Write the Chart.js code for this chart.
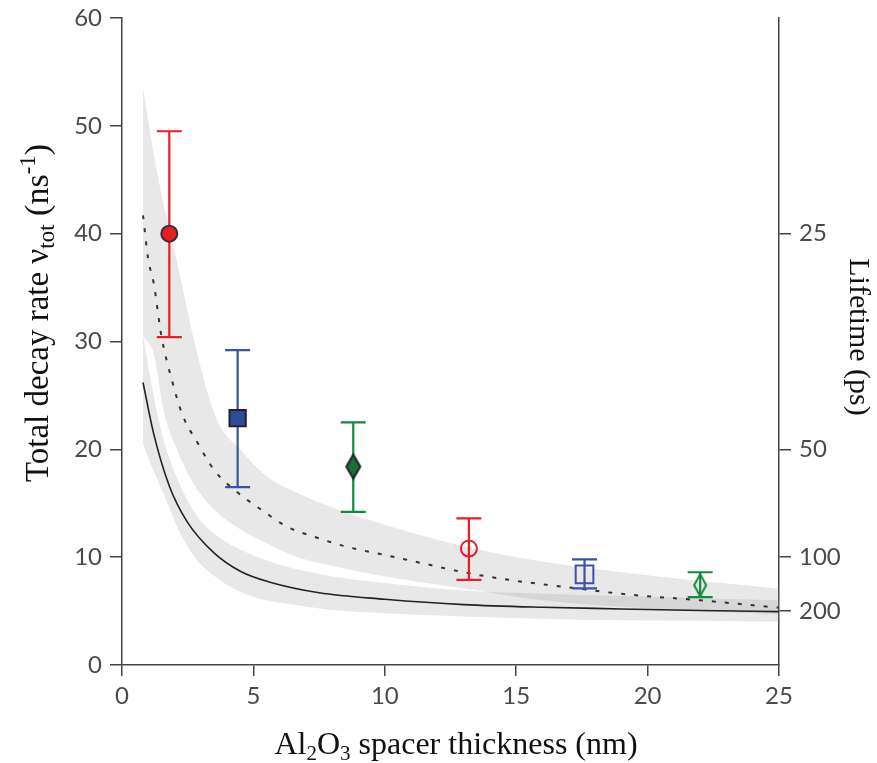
<!DOCTYPE html>
<html>
<head>
<meta charset="utf-8">
<script src="https://cdn.jsdelivr.net/npm/chart.js@4.4.0/dist/chart.umd.min.js"></script>
<style>
  html, body { margin: 0; padding: 0; background: #fff; }
  canvas { display: block; }
</style>
</head>
<body>
<canvas id="decayChart" width="877" height="763"></canvas>
<script>
// measured points (spacer thickness in nm, decay rate in 1/ns)
const thickness = [1.8, 4.4, 8.8, 13.2, 17.6, 22.0];
const rate      = [40, 22.9, 18.4, 10.8, 8.4, 7.4];
const rateHigh  = [49.5, 29.2, 22.5, 13.6, 9.8, 8.6];
const rateLow   = [30.4, 16.5, 14.2, 7.9, 7.1, 6.3];

// theory curves
const dashX = [0.8, 1.0, 1.2, 1.5, 1.9, 2.3, 2.9, 3.5, 4.3, 5.3, 6.3, 7.3, 8.5, 10, 11.5, 13, 15, 17, 19, 22, 25];
const dashY = [41.7, 37.6, 35.5, 30.5, 26.4, 23.2, 20.5, 18.1, 16.2, 14.4, 12.8, 11.9, 11.0, 10.2, 9.4, 8.6, 7.8, 7.2, 6.6, 6.0, 5.3];
const solidX = [0.8, 1.2, 1.8, 2.5, 3.5, 4.5, 5.6, 7.5, 10, 13, 16, 19, 22, 25];
const solidY = [26.2, 21.5, 16.6, 13.2, 10.4, 8.7, 7.7, 6.7, 6.1, 5.6, 5.35, 5.2, 5.05, 4.95];

// uncertainty bands
const bandX     = [0.8, 1.2, 1.6, 2.1, 2.8, 3.6, 4.5, 5.5, 6.8, 8, 10, 13, 16, 19, 22, 25];
const bandAHigh = [53.5, 47.5, 42.5, 37.3, 29.5, 22.8, 20.0, 17.5, 15.8, 14.6, 13.0, 11.0, 9.6, 8.6, 7.8, 7.1];
const bandALow  = [30.5, 28.9, 23.4, 19.9, 16.5, 14.2, 12.6, 11.3, 9.9, 9.2, 8.2, 7.1, 6.0, 5.4, 5.0, 4.7];
const bandBHigh = [30.5, 25.0, 20.7, 17.3, 14.0, 12.0, 10.7, 9.7, 8.8, 8.2, 7.6, 6.9, 6.6, 6.4, 6.2, 6.0];
const bandBLow  = [20.5, 18.0, 15.8, 12.8, 9.9, 8.1, 6.8, 6.0, 5.5, 5.1, 4.8, 4.5, 4.3, 4.15, 4.1, 4.0];

// right axis: lifetime labels (ps)
const lifetimeTicks = [25, 50, 100, 200];

const red = '#ed1c24', blue = '#3a53a4', green = '#118a3e';
const markerColors = [red, blue, green, red, blue, green];

const pts = (xs, ys) => xs.map((x, i) => ({ x: x, y: ys[i] }));

function diamond(w, h, fill, stroke) {
  const c = document.createElement('canvas');
  c.width = w + 4;
  c.height = h + 4;
  const g = c.getContext('2d');
  g.beginPath();
  g.moveTo(c.width / 2, 2);
  g.lineTo(c.width - 2, c.height / 2);
  g.lineTo(c.width / 2, c.height - 2);
  g.lineTo(2, c.height / 2);
  g.closePath();
  if (fill) { g.fillStyle = fill; g.fill(); }
  g.lineWidth = 2;
  g.strokeStyle = stroke;
  g.stroke();
  return c;
}

const errorBars = {
  id: 'errorBars',
  beforeDatasetDraw(chart, args) {
    if (args.index !== 0) return;
    const { ctx, scales: { x, y } } = chart;
    ctx.save();
    ctx.lineWidth = 2.2;
    thickness.forEach((t, i) => {
      const px = x.getPixelForValue(t);
      const top = y.getPixelForValue(rateHigh[i]);
      const bot = y.getPixelForValue(rateLow[i]);
      ctx.strokeStyle = markerColors[i];
      ctx.beginPath();
      ctx.moveTo(px, top); ctx.lineTo(px, bot);
      ctx.moveTo(px - 12.5, top); ctx.lineTo(px + 12.5, top);
      ctx.moveTo(px - 12.5, bot); ctx.lineTo(px + 12.5, bot);
      ctx.stroke();
    });
    ctx.restore();
  }
};

function drawRich(ctx, parts, cx, cy, angle) {
  const fam = '"Liberation Serif", "Times New Roman", serif';
  ctx.save();
  ctx.translate(cx, cy);
  ctx.rotate(angle);
  let w = 0;
  parts.forEach(p => {
    ctx.font = p.size + 'px ' + fam;
    p.w = ctx.measureText(p.text).width;
    w += p.w;
  });
  let xx = -w / 2;
  ctx.fillStyle = '#111';
  ctx.textBaseline = 'alphabetic';
  parts.forEach(p => {
    ctx.font = p.size + 'px ' + fam;
    ctx.fillText(p.text, xx, p.dy || 0);
    xx += p.w;
  });
  ctx.restore();
}

const axisTitles = {
  id: 'axisTitles',
  afterDraw(chart) {
    const ctx = chart.ctx;
    drawRich(ctx, [
      { text: 'Total decay rate \u03bd', size: 33 },
      { text: 'tot', size: 23, dy: 6 },
      { text: ' (ns', size: 34 },
      { text: '-1', size: 23, dy: -13 },
      { text: ')', size: 34 }
    ], 48, 313, -Math.PI / 2);
    drawRich(ctx, [
      { text: 'Al', size: 32 },
      { text: '2', size: 21, dy: 6 },
      { text: 'O', size: 32 },
      { text: '3', size: 21, dy: 6 },
      { text: ' spacer thickness (nm)', size: 32 }
    ], 456, 754, 0);
    drawRich(ctx, [{ text: 'Lifetime (ps)', size: 30 }], 850, 337, Math.PI / 2);
  }
};

const tickFont = { family: 'Lato, "Open Sans", sans-serif', size: 24 };
const axisColor = '#444';

const bandFill = 'rgba(140,140,140,0.2)';

new Chart(document.getElementById('decayChart'), {
  type: 'scatter',
  data: {
    datasets: [
      {
        label: 'measured',
        data: pts(thickness, rate),
        pointStyle: ['circle', 'rect', diamond(14, 24, '#1b6e38', '#222'), 'circle', 'rect', diamond(12, 22, null, green)],
        pointRadius: [8, 11.5, 10, 8, 12.5, 10],
        backgroundColor: [red, '#2f4c9c', green, 'rgba(0,0,0,0)', 'rgba(0,0,0,0)', 'rgba(0,0,0,0)'],
        borderColor: ['#333', '#222', '#222', red, blue, green],
        borderWidth: 2,
        showLine: false
      },
      {
        label: 'solid',
        data: pts(solidX, solidY),
        showLine: true,
        borderColor: '#222',
        borderWidth: 1.6,
        pointRadius: 0,
        cubicInterpolationMode: 'monotone',
        fill: false
      },
      {
        label: 'dashed',
        data: pts(dashX, dashY),
        showLine: true,
        borderColor: '#333',
        borderWidth: 2,
        borderDash: [4, 9],
        pointRadius: 0,
        cubicInterpolationMode: 'monotone',
        fill: false
      },
      {
        label: 'bandA high',
        data: pts(bandX, bandAHigh),
        showLine: true,
        borderWidth: 0,
        borderColor: 'rgba(0,0,0,0)',
        backgroundColor: bandFill,
        pointRadius: 0,
        cubicInterpolationMode: 'monotone',
        fill: '+1'
      },
      {
        label: 'bandA low',
        data: pts(bandX, bandALow),
        showLine: true,
        borderWidth: 0,
        borderColor: 'rgba(0,0,0,0)',
        pointRadius: 0,
        cubicInterpolationMode: 'monotone',
        fill: false
      },
      {
        label: 'bandB high',
        data: pts(bandX, bandBHigh),
        showLine: true,
        borderWidth: 0,
        borderColor: 'rgba(0,0,0,0)',
        backgroundColor: bandFill,
        pointRadius: 0,
        cubicInterpolationMode: 'monotone',
        fill: '+1'
      },
      {
        label: 'bandB low',
        data: pts(bandX, bandBLow),
        showLine: true,
        borderWidth: 0,
        borderColor: 'rgba(0,0,0,0)',
        pointRadius: 0,
        cubicInterpolationMode: 'monotone',
        fill: false
      }
    ]
  },
  options: {
    responsive: false,
    animation: false,
    layout: { padding: { top: 18, left: 0, right: 0, bottom: 0 } },
    plugins: {
      legend: { display: false },
      tooltip: { enabled: false }
    },
    scales: {
      x: {
        type: 'linear',
        min: 0,
        max: 25,
        ticks: { stepSize: 5, font: tickFont, color: '#4a4a4a', padding: 6 },
        grid: { drawOnChartArea: false, drawTicks: true, tickLength: 11, color: axisColor, lineWidth: 1.5 },
        border: { display: true, color: axisColor, width: 1.5 },
        afterFit: s => { s.height = 98; s.paddingLeft = 0; s.paddingRight = 0; }
      },
      y: {
        position: 'left',
        min: 0,
        max: 60,
        ticks: { stepSize: 10, font: tickFont, color: '#4a4a4a', padding: 8 },
        grid: { drawOnChartArea: false, drawTicks: true, tickLength: 12, color: axisColor, lineWidth: 1.5 },
        border: { display: true, color: axisColor, width: 1.5 },
        afterFit: s => { s.width = 122; s.paddingTop = 0; s.paddingBottom = 0; }
      },
      y2: {
        position: 'right',
        min: 0,
        max: 60,
        afterBuildTicks: s => { s.ticks = lifetimeTicks.map(t => ({ value: 1000 / t })); },
        ticks: {
          font: tickFont,
          color: '#4a4a4a',
          padding: 8,
          callback: v => String(Math.round(1000 / v))
        },
        grid: { drawOnChartArea: false, drawTicks: true, tickLength: 12, color: axisColor, lineWidth: 1.5 },
        border: { display: true, color: axisColor, width: 1.5 },
        afterFit: s => { s.width = 98; s.paddingTop = 0; s.paddingBottom = 0; }
      }
    }
  },
  plugins: [errorBars, axisTitles]
});
</script>
</body>
</html>
